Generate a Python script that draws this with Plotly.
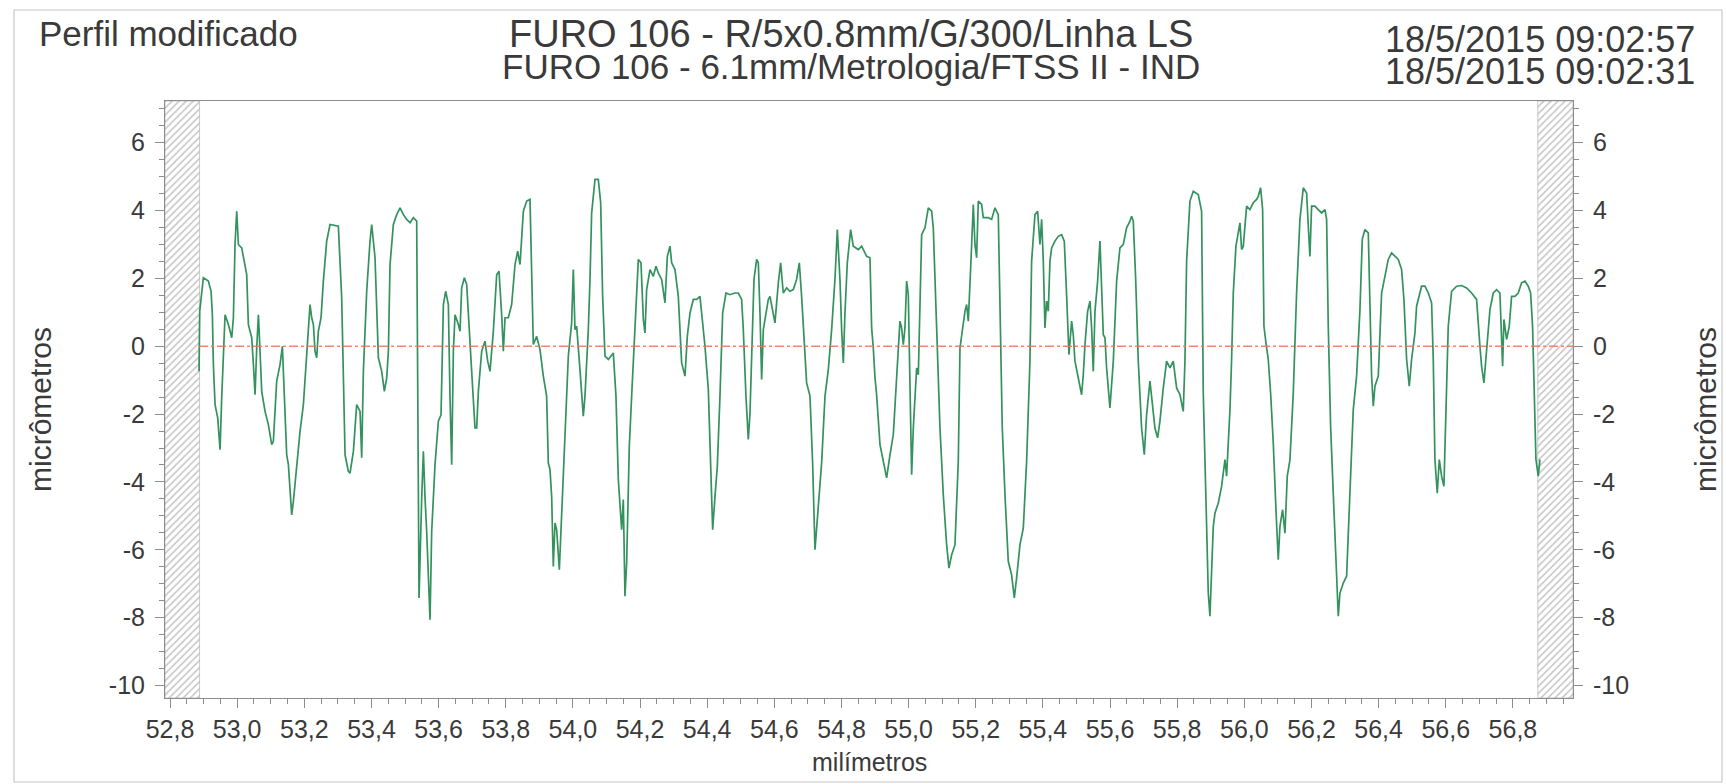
import plotly.graph_objects as go

# ---- data ----
position_mm = [
    52.8864, 52.8884, 52.8993, 52.9142, 52.9222, 52.9261, 52.9291, 52.9341, 52.9420, 52.9490,
    52.9539, 52.9589, 52.9639, 52.9738, 52.9787, 52.9837, 52.9887, 52.9936, 52.9986, 53.0036,
    53.0135, 53.0234, 53.0284, 53.0334, 53.0433, 53.0483, 53.0532, 53.0582, 53.0632, 53.0681,
    53.0731, 53.0830, 53.0929, 53.1029, 53.1078, 53.1177, 53.1277, 53.1346, 53.1406, 53.1475,
    53.1525, 53.1624, 53.1674, 53.1773, 53.1872, 53.1972, 53.2071, 53.2170, 53.2220, 53.2270,
    53.2319, 53.2369, 53.2418, 53.2498, 53.2567, 53.2666, 53.2766, 53.2915, 53.3014, 53.3113,
    53.3163, 53.3213, 53.3312, 53.3362, 53.3461, 53.3560, 53.3660, 53.3709, 53.3759, 53.3858,
    53.3957, 53.4007, 53.4106, 53.4156, 53.4206, 53.4305, 53.4384, 53.4454, 53.4504, 53.4553,
    53.4652, 53.4752, 53.4851, 53.4950, 53.5050, 53.5149, 53.5248, 53.5347, 53.5377, 53.5417,
    53.5496, 53.5546, 53.5595, 53.5645, 53.5744, 53.5794, 53.5893, 53.5993, 53.6072, 53.6142,
    53.6211, 53.6290, 53.6340, 53.6390, 53.6439, 53.6489, 53.6588, 53.6638, 53.6687, 53.6767,
    53.6836, 53.6886, 53.6936, 53.6985, 53.7084, 53.7134, 53.7184, 53.7283, 53.7382, 53.7462,
    53.7531, 53.7630, 53.7730, 53.7799, 53.7878, 53.7928, 53.7978, 53.8077, 53.8176, 53.8276,
    53.8355, 53.8425, 53.8524, 53.8623,
    53.8722, 53.8772, 53.8821, 53.8921, 53.9020, 53.9119, 53.9218, 53.9268, 53.9318, 53.9367,
    53.9417, 53.9467, 53.9516, 53.9596, 53.9665, 53.9764, 53.9864, 53.9963, 54.0013, 54.0062,
    54.0112, 54.0211, 54.0261, 54.0310, 54.0360, 54.0459, 54.0509, 54.0559, 54.0658, 54.0757,
    54.0827, 54.0886, 54.0956, 54.1055, 54.1204, 54.1283, 54.1353, 54.1452, 54.1502, 54.1551,
    54.1601, 54.1680, 54.1750, 54.1820, 54.1879, 54.1949, 54.2028, 54.2098, 54.2147, 54.2197,
    54.2296, 54.2395, 54.2475, 54.2544, 54.2644, 54.2743, 54.2813, 54.2892, 54.2942, 54.3041,
    54.3140, 54.3239, 54.3339, 54.3408, 54.3488, 54.3587, 54.3686, 54.3785, 54.3835, 54.3934,
    54.4034, 54.4133, 54.4163, 54.4233, 54.4302, 54.4381, 54.4461, 54.4560, 54.4679, 54.4828,
    54.4927, 54.5026, 54.5076, 54.5155, 54.5225, 54.5275, 54.5324, 54.5394, 54.5473, 54.5523,
    54.5573, 54.5622, 54.5672, 54.5771, 54.5821, 54.5870, 54.5950, 54.6019, 54.6119, 54.6188,
    54.6267, 54.6367, 54.6466, 54.6565, 54.6664, 54.6744, 54.6813, 54.6863, 54.6913, 54.6962,
    54.7062, 54.7141, 54.7211, 54.7260, 54.7340, 54.7409, 54.7509, 54.7608, 54.7707, 54.7806,
    54.7876, 54.7955, 54.8005, 54.8055, 54.8104, 54.8174, 54.8273, 54.8352, 54.8501, 54.8601,
    54.8750,
    54.8849, 54.8899, 54.8948, 54.8998, 54.9047, 54.9147, 54.9246, 54.9296, 54.9345, 54.9445,
    54.9544, 54.9643, 54.9742, 54.9792, 54.9842, 54.9891, 54.9941, 54.9991, 55.0040, 55.0090,
    55.0140, 55.0189, 55.0239, 55.0289, 55.0338, 55.0388, 55.0487, 55.0586, 55.0686, 55.0735,
    55.0835, 55.0934, 55.1033, 55.1132, 55.1202, 55.1281, 55.1381, 55.1480, 55.1530, 55.1579,
    55.1678, 55.1728, 55.1778, 55.1857, 55.1927, 55.1976, 55.2026, 55.2076, 55.2175, 55.2224,
    55.2373, 55.2473, 55.2572, 55.2671, 55.2721, 55.2790, 55.2870, 55.2969, 55.3068, 55.3148,
    55.3217, 55.3317, 55.3416, 55.3515, 55.3614, 55.3664, 55.3763, 55.3843, 55.3912, 55.3962,
    55.4012, 55.4061, 55.4111, 55.4160, 55.4210, 55.4260, 55.4359, 55.4458, 55.4558, 55.4637,
    55.4706, 55.4776, 55.4856, 55.4905, 55.4955, 55.5054, 55.5153, 55.5203, 55.5253, 55.5332,
    55.5402, 55.5451, 55.5501, 55.5551, 55.5630, 55.5700, 55.5749, 55.5799, 55.5849, 55.5898,
    55.5997, 55.6097, 55.6196, 55.6295, 55.6394, 55.6493, 55.6593, 55.6642, 55.6692, 55.6762,
    55.6841, 55.6940, 55.7020, 55.7089, 55.7189, 55.7258, 55.7337, 55.7417, 55.7486, 55.7586,
    55.7685, 55.7784, 55.7883, 55.7983, 55.8082, 55.8181, 55.8231, 55.8281, 55.8380, 55.8479,
    55.8628, 55.8727,
    55.8777, 55.8877, 55.8926, 55.8976, 55.9025, 55.9075, 55.9125, 55.9224, 55.9323, 55.9423,
    55.9472, 55.9572, 55.9621, 55.9671, 55.9750, 55.9820, 55.9869, 55.9919, 55.9969, 56.0068,
    56.0167, 56.0266, 56.0366, 56.0415, 56.0485, 56.0545, 56.0584, 56.0644, 56.0713, 56.0783,
    56.0862, 56.0942, 56.1011, 56.1061, 56.1140, 56.1210, 56.1279, 56.1359, 56.1458, 56.1557,
    56.1656, 56.1756, 56.1855, 56.1905, 56.1954, 56.2004, 56.2103, 56.2202, 56.2302, 56.2401,
    56.2451, 56.2500, 56.2570, 56.2649, 56.2729, 56.2798, 56.2848, 56.2947, 56.3046, 56.3146,
    56.3245, 56.3344, 56.3444, 56.3513, 56.3592, 56.3692, 56.3741, 56.3791, 56.3841, 56.3890,
    56.3990, 56.4089, 56.4188, 56.4287, 56.4387, 56.4486, 56.4585, 56.4685, 56.4754, 56.4834,
    56.4913, 56.4982, 56.5082, 56.5131, 56.5231, 56.5280, 56.5379, 56.5479, 56.5578, 56.5628,
    56.5677, 56.5747, 56.5807, 56.5876, 56.5945, 56.6025, 56.6074, 56.6174, 56.6323, 56.6472,
    56.6620, 56.6769, 56.6918, 56.7018, 56.7067, 56.7137, 56.7216, 56.7316, 56.7415, 56.7514,
    56.7613, 56.7663, 56.7693, 56.7733, 56.7812, 56.7891, 56.7961, 56.8060, 56.8159, 56.8258,
    56.8358, 56.8457, 56.8527, 56.8586, 56.8626, 56.8686, 56.8755, 56.8805,
]

profile_um = [
    -0.74, 1.03, 2.02, 1.92, 1.62, 0.93, -0.54, -1.72, -2.11, -3.05,
    -1.52, -0.15, 0.93, 0.64, 0.44, 0.25, 0.84, 3.00, 3.98, 3.00,
    2.90, 2.41, 2.11, 0.64, 0.25, -0.54, -1.43, -0.05, 0.93, -0.15,
    -1.33, -1.92, -2.31, -2.90, -2.80, -1.03, -0.54, 0.00, -1.52, -3.20,
    -3.49, -4.97, -4.57, -3.49, -2.51, -1.72, -0.15, 1.23, 0.84, 0.64,
    -0.15, -0.34, 0.44, 0.84, 1.92, 3.10, 3.59, 3.57, 3.54, 1.43,
    -0.54, -3.20, -3.69, -3.74, -3.10, -1.72, -1.92, -3.29, -0.74, 1.62,
    3.10, 3.59, 2.61, 1.13, -0.34, -0.74, -1.33, -0.93, -0.15, 2.41,
    3.59, 3.88, 4.08, 3.88, 3.74, 3.64, 3.79, 3.69, -0.54, -7.42,
    -4.47, -3.10, -4.47, -5.46, -8.06, -5.46, -3.49, -2.21, -2.02, 1.23,
    1.62, 1.23, -1.52, -3.49, -0.15, 0.93, 0.64, 0.44, 1.72, 2.02,
    1.82, 0.84, 0.05, -0.74, -2.41, -2.41, -1.33, -0.15, 0.15, -0.44,
    -0.74, 0.44, 2.11, 2.21, 0.93, -0.15, 0.84, 0.84, 1.23, 2.41,
    2.80, 2.41, 3.98, 4.28,
    4.33, 2.46, 0.05, 0.29, -0.10, -0.88, -1.47, -3.44, -3.64, -4.42,
    -6.49, -5.21, -5.41, -6.59, -4.92, -2.46, -0.29, 0.69, 2.26, 0.49,
    0.59, -0.69, -1.28, -2.06, -1.47, 0.49, 1.97, 3.93, 4.92, 4.92,
    4.23, 1.47, -0.29, -0.39, -0.20, -1.47, -3.93, -5.41, -4.52, -7.37,
    -6.39, -2.95, -1.47, -0.10, 1.47, 2.56, 2.46, 0.79, 0.39, 1.67,
    2.26, 2.06, 2.36, 2.16, 1.97, 1.28, 2.65, 2.95, 2.46, 2.26,
    1.47, -0.49, -0.88, 0.29, 0.98, 1.38, 1.38, 1.47, 0.98, 0.00,
    -1.28, -4.42, -5.41, -4.42, -3.54, -1.47, 0.98, 1.57, 1.52, 1.57,
    1.57, 1.38, 0.49, -1.47, -2.75, -1.97, -0.49, 1.97, 2.56, 2.46,
    0.98, -0.98, 0.49, 1.18, 1.38, 1.47, 0.98, 0.69, 1.87, 2.46,
    1.57, 1.72, 1.62, 1.67, 1.97, 2.46, 1.47, 0.69, -0.10, -1.08,
    -1.47, -3.44, -6.00, -5.41, -4.23, -3.44, -1.47, -0.69, 0.49, 1.97,
    3.44, 1.97, 0.49, -0.49, 0.98, 2.46, 3.44, 2.95, 2.85, 2.95,
    2.65,
    2.61, 0.54, -0.05, -0.93, -1.43, -2.90, -3.39, -3.69, -3.88, -3.20,
    -2.61, -0.93, 0.74, 0.54, 0.05, 0.54, 1.92, 1.52, -1.43, -3.79,
    -2.41, -1.43, -0.64, -0.84, 1.52, 3.29, 3.49, 4.08, 3.98, 3.49,
    0.54, -2.41, -4.38, -5.85, -6.54, -6.15, -5.85, -3.39, -0.05, 0.34,
    1.03, 1.23, 0.74, 2.51, 4.18, 3.00, 2.61, 4.28, 4.18, 3.79,
    3.79, 3.74, 4.08, 3.88, 1.52, -2.41, -4.38, -6.34, -6.74, -7.42,
    -6.83, -5.85, -5.36, -3.39, -0.44, 2.51, 3.88, 3.98, 3.00, 3.74,
    2.51, 0.54, 1.33, 1.03, 2.51, 2.90, 3.10, 3.24, 3.29, 3.10,
    1.52, -0.25, 0.74, 0.34, -0.44, -0.93, -1.43, -0.84, 0.05, 1.03,
    1.33, 0.54, -0.74, 1.03, 1.92, 3.10, 1.52, 0.34, 0.25, -0.64,
    -1.82, -0.44, 1.92, 2.90, 3.00, 3.49, 3.69, 3.83, 3.69, 2.02,
    -0.44, -2.41, -3.20, -2.02, -1.03, -1.62, -2.41, -2.70, -2.21, -1.23,
    -0.44, -0.64, -0.44, -1.23, -1.43, -1.92, -0.44, 2.51, 4.28, 4.57,
    4.47, 3.98,
    -1.38, -5.31, -7.28, -7.96, -6.78, -5.31, -4.92, -4.62, -4.13, -3.34,
    -3.83, -1.87, -0.39, 1.57, 2.95, 3.44, 3.64, 2.85, 2.95, 4.13,
    4.03, 4.23, 4.33, 4.42, 4.67, 4.03, 0.59, 0.10, -0.39, -1.38,
    -2.85, -4.82, -6.29, -5.31, -4.82, -5.51, -3.83, -3.34, -1.38, 1.57,
    3.74, 4.67, 4.52, 3.54, 2.65, 4.13, 4.13, 4.03, 3.93, 4.03,
    3.74, 0.59, -2.36, -4.33, -6.29, -7.96, -7.28, -6.98, -6.78, -4.33,
    -1.87, -0.88, 1.08, 3.15, 3.44, 3.34, 1.57, -0.88, -1.77, -1.18,
    -0.88, 1.57, 2.06, 2.56, 2.75, 2.65, 2.56, 2.26, 1.38, -0.39,
    -1.18, -0.39, 0.39, 1.18, 1.57, 1.77, 1.77, 1.57, 1.28, -0.39,
    -3.34, -4.33, -3.34, -3.83, -4.13, -1.38, 0.59, 1.62, 1.77, 1.79,
    1.72, 1.57, 1.38, 0.00, -0.59, -1.08, -0.20, 1.08, 1.57, 1.67,
    1.57, 0.10, -0.59, 0.79, 0.20, 0.59, 1.47, 1.47, 1.57, 1.87,
    1.92, 1.77, 1.57, 0.59, -1.38, -3.34, -3.83, -3.34,
]

x_range_mm = [52.785, 56.979]
y_range_um = [-10.37, 7.23]
excluded_zones_mm = [(52.785, 52.888), (56.874, 56.979)]
reference_line_um = 0.0

y_tick_values = [6, 4, 2, 0, -2, -4, -6, -8, -10]
y_tick_labels = ["6", "4", "2", "0", "-2", "-4", "-6", "-8", "-10"]

title_left = "Perfil modificado"
title_mid_1 = "FURO 106 - R/5x0.8mm/G/300/Linha LS"
title_mid_2 = "FURO 106 - 6.1mm/Metrologia/FTSS II - IND"
date_1 = "18/5/2015 09:02:57"
date_2 = "18/5/2015 09:02:31"
x_title = "milímetros"
y_title = "micrômetros"

# ---- figure ----
FONT = "Liberation Sans, Arial, sans-serif"
TXT = "#3a3a3a"
AX = "#8c8c8c"
W, H = 1726, 784
ML, MR, MT, MB = 165, 153, 101, 86
PW, PH = W - ML - MR, H - MT - MB


def px_x(px):
    return (px - ML) / PW


def px_y(py):
    return (H - MB - py) / PH


fig = go.Figure()

# hatched exclusion zones
for x0, x1 in excluded_zones_mm:
    fig.add_trace(go.Scatter(
        x=[x0, x1, x1, x0, x0],
        y=[y_range_um[0], y_range_um[0], y_range_um[1], y_range_um[1], y_range_um[0]],
        mode="lines", fill="toself",
        fillcolor="rgba(255,255,255,0)",
        fillpattern=dict(shape="/", fgcolor="#8a8a8a", bgcolor="white", size=5, solidity=0.3),
        line=dict(color="#a8a8a8", width=0.6),
        hoverinfo="skip", showlegend=False,
    ))

# reference (least-squares) line
fig.add_trace(go.Scatter(
    x=[position_mm[0], x_range_mm[1]],
    y=[reference_line_um, reference_line_um],
    mode="lines",
    line=dict(color="rgba(226,120,80,0.85)", width=1.3, dash="dashdot"),
    yaxis="y2", showlegend=False, hoverinfo="skip",
))

# profile
fig.add_trace(go.Scatter(
    x=position_mm, y=profile_um, mode="lines",
    line=dict(color="#33925d", width=1.7),
    showlegend=False,
))

axis_common = dict(
    showgrid=False, zeroline=False, showline=True, linecolor=AX, linewidth=1,
    ticks="outside", tickcolor=AX, ticklen=9, tickwidth=1,
    tickfont=dict(family=FONT, size=25, color=TXT),
)

fig.update_layout(
    width=W, height=H,
    margin=dict(l=ML, r=MR, t=MT, b=MB),
    paper_bgcolor="white", plot_bgcolor="white",
    separators=",.",
    xaxis=dict(
        range=x_range_mm, tick0=52.8, dtick=0.2, tickformat=".1f",
        mirror=True,
        minor=dict(dtick=0.05, ticklen=5, tickcolor=AX, ticks="outside"),
        ticklabelstandoff=0,
        **axis_common,
    ),
    yaxis=dict(
        range=y_range_um, tickmode="array", tickvals=y_tick_values, ticktext=y_tick_labels,
        minor=dict(dtick=0.5, ticklen=5, tickcolor=AX, ticks="outside"),
        ticklabelstandoff=5,
        **axis_common,
    ),
    yaxis2=dict(
        range=y_range_um, overlaying="y", side="right",
        tickmode="array", tickvals=y_tick_values, ticktext=y_tick_labels,
        minor=dict(dtick=0.5, ticklen=5, tickcolor=AX, ticks="outside"),
        ticklabelstandoff=5,
        **axis_common,
    ),
    shapes=[dict(
        type="rect", xref="paper", yref="paper",
        x0=px_x(14), x1=px_x(1722), y0=px_y(782), y1=px_y(10),
        line=dict(color="#c8c8c8", width=1.2), fillcolor="rgba(0,0,0,0)", layer="below",
    )],
)

ann = []
ann.append(dict(text=title_left, x=px_x(37), y=px_y(33), xanchor="left", yanchor="middle",
                font=dict(family=FONT, size=35, color=TXT)))
ann.append(dict(text=title_mid_1, x=px_x(851), y=px_y(34), xanchor="center", yanchor="middle",
                font=dict(family=FONT, size=38, color=TXT)))
ann.append(dict(text=title_mid_2, x=px_x(851), y=px_y(66), xanchor="center", yanchor="middle",
                font=dict(family=FONT, size=35, color=TXT)))
ann.append(dict(text=date_1, x=px_x(1697), y=px_y(40), xanchor="right", yanchor="middle",
                font=dict(family=FONT, size=36, color=TXT)))
ann.append(dict(text=date_2, x=px_x(1697), y=px_y(71), xanchor="right", yanchor="middle",
                font=dict(family=FONT, size=36, color=TXT)))
ann.append(dict(text=x_title, x=0.5, y=px_y(762), xanchor="center", yanchor="middle",
                font=dict(family=FONT, size=25, color=TXT)))
ann.append(dict(text=y_title, x=px_x(40), y=px_y(410), xanchor="center", yanchor="middle",
                textangle=-90, font=dict(family=FONT, size=30, color=TXT)))
ann.append(dict(text=y_title, x=px_x(1705), y=px_y(410), xanchor="center", yanchor="middle",
                textangle=-90, font=dict(family=FONT, size=30, color=TXT)))
for a in ann:
    a.update(xref="paper", yref="paper", showarrow=False)
fig.update_layout(annotations=ann)

fig.write_html(
    "out.html",
    config={"displayModeBar": False},
    post_script="document.body.style.margin='0';document.body.style.overflow='hidden';",
)
